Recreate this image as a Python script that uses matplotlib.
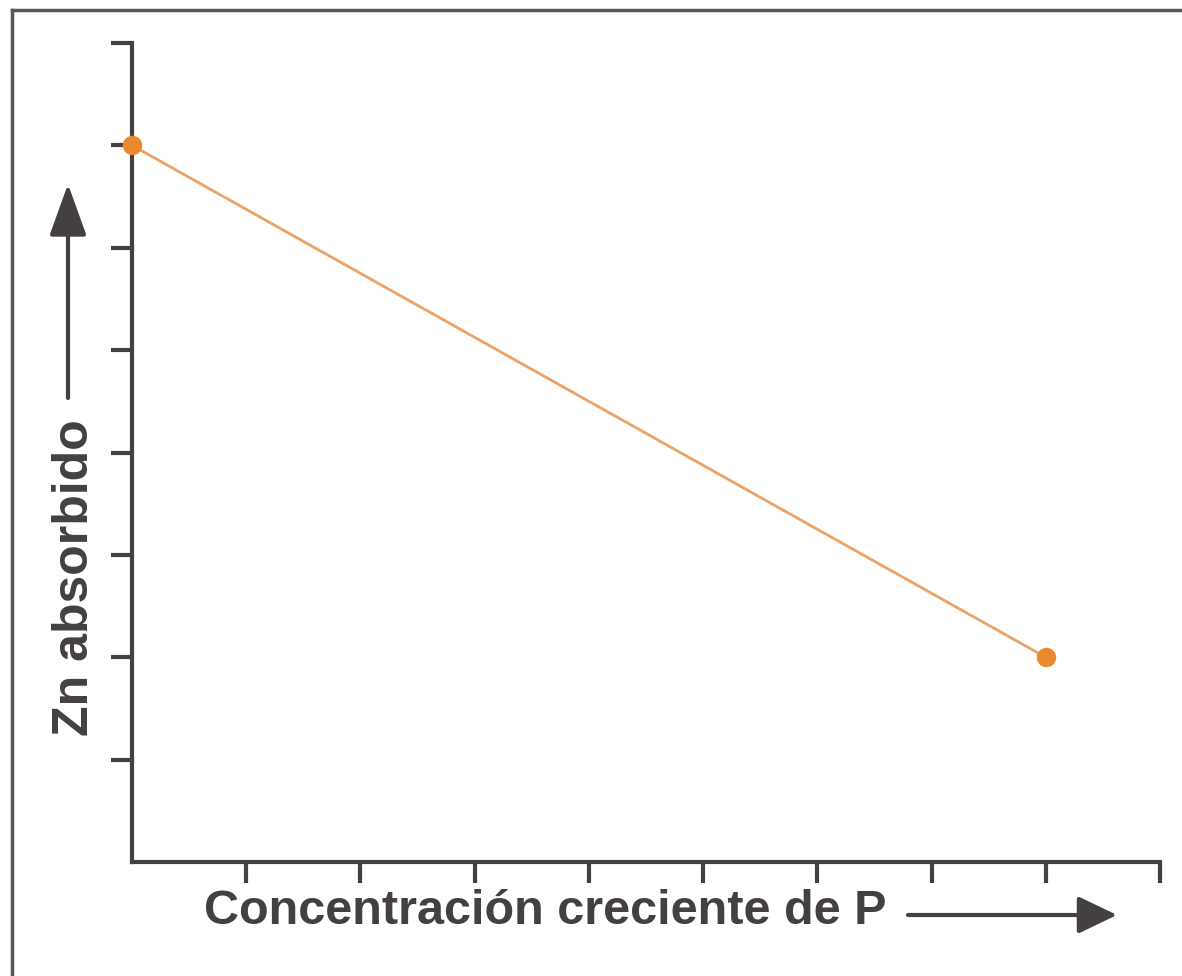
import matplotlib
matplotlib.use('Agg')
import matplotlib.pyplot as plt
from matplotlib.lines import Line2D
from matplotlib.patches import FancyArrowPatch

# data (arbitrary units, no tick labels)
p_conc = [0, 8]
zn_abs = [7, 2]
x_ticks = [1, 2, 3, 4, 5, 6, 7, 8, 9]
y_ticks = [1, 2, 3, 4, 5, 6, 7, 8]
x_label = 'Concentración creciente de P'
y_label = 'Zn absorbido'

ink = '#454040'
orange = '#e8892f'

plt.rcParams['font.family'] = ['Liberation Sans', 'DejaVu Sans']

fig = plt.figure(figsize=(11.82, 9.76), dpi=100)
W, H = 1182, 976
ax = fig.add_axes([132 / W, (H - 862) / H, (1160 - 132) / W, (862 - 43) / H])

ax.plot(p_conc, zn_abs, color='#eba266', lw=2, clip_on=False, zorder=3)
ax.plot(p_conc, zn_abs, 'o', color=orange, ms=13, mec=orange, clip_on=False, zorder=4)

ax.set_xlim(0, 9)
ax.set_ylim(0, 8)
ax.set_xticks(x_ticks)
ax.set_yticks(y_ticks)
ax.set_xticklabels([])
ax.set_yticklabels([])
ax.tick_params(direction='out', length=15, width=3, color=ink)
for s in ['top', 'right']:
    ax.spines[s].set_visible(False)
for s in ['left', 'bottom']:
    ax.spines[s].set_color(ink)
    ax.spines[s].set_linewidth(3)

# outer frame of the figure (top and left edges visible)
fig.add_artist(Line2D([12 / W, 1.0], [1 - 10 / H, 1 - 10 / H], color='#5a5656', lw=2.5))
fig.add_artist(Line2D([12 / W, 12 / W], [0, 1 - 10 / H], color='#5a5656', lw=2.5))

# axis labels with arrows
fig.text(545 / W, 1 - 912 / H, x_label, fontsize=35, fontweight='bold',
         color=ink, ha='center', va='center')
fig.text(75 / W, 1 - 578 / H, y_label, fontsize=36, fontweight='bold',
         color=ink, ha='center', va='center', rotation=90)

fig.add_artist(FancyArrowPatch(
    (908 / W, 1 - 915 / H), (1117 / W, 1 - 915 / H), transform=fig.transFigure,
    arrowstyle='-|>,head_length=2.4,head_width=1.15', mutation_scale=10,
    lw=3, color=ink, shrinkA=0, shrinkB=0))
fig.add_artist(FancyArrowPatch(
    (68 / W, 1 - 398 / H), (68 / W, 1 - 184 / H), transform=fig.transFigure,
    arrowstyle='-|>,head_length=3.2,head_width=1.15', mutation_scale=10,
    lw=3, color=ink, shrinkA=0, shrinkB=0))

fig.savefig('out.png', dpi=100, facecolor='white')
